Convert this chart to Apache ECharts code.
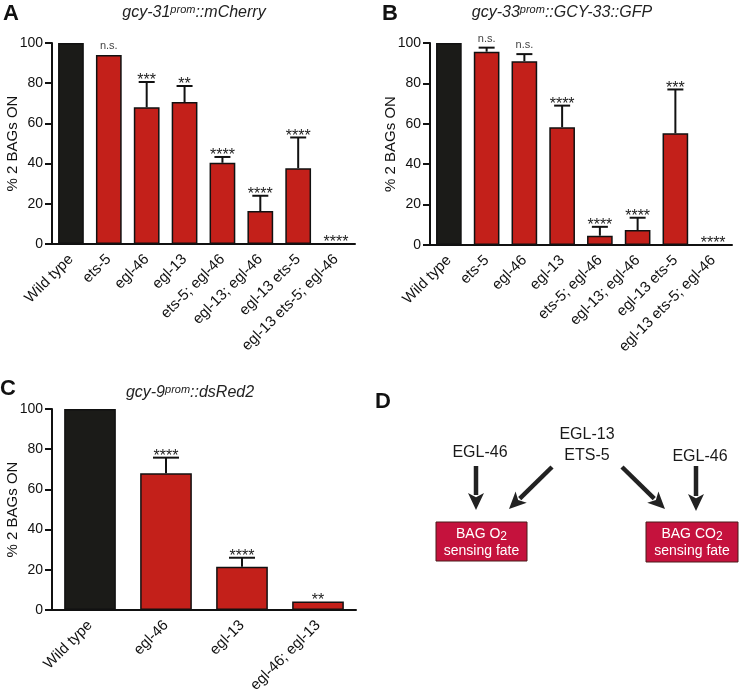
<!DOCTYPE html>
<html><head><meta charset="utf-8">
<script src="https://cdn.jsdelivr.net/npm/echarts@6/dist/echarts.min.js"></script>
<style>html,body{margin:0;padding:0;background:#fff}#c{width:740px;height:694px}</style>
</head><body><div id="c"></div>
<script>
const catsAB = ['Wild type','ets-5','egl-46','egl-13','ets-5; egl-46','egl-13; egl-46','egl-13 ets-5','egl-13 ets-5; egl-46'];
const valsA = [100, 94, 68, 70.6, 40.4, 16.4, 37.7, 0];
const errA  = [100, 94, 80.6, 78.6, 43.3, 24, 53, 0];
const sigA  = ['', 'n.s.', '***', '**', '****', '****', '****', '****'];
const valsB = [100, 95.7, 91, 58.3, 4.6, 7.4, 55.3, 0];
const errB  = [100, 97.7, 94.5, 69, 9, 13.5, 77, 0];
const sigB  = ['', 'n.s.', 'n.s.', '****', '****', '****', '***', '****'];
const catsC = ['Wild type','egl-46','egl-13','egl-46; egl-13'];
const valsC = [100, 68, 21.5, 4.2];
const errC  = [100, 75.8, 26, 4.2];
const sigC  = ['', '****', '****', '**'];
const yMin = 0, yMax = 100, yStep = 20;
const yName = '% 2 BAGs ON';

const FONT = 'Liberation Sans, Arial, Helvetica, sans-serif';
const RED = '#c3201a', BLACK = '#1b1b18', INK = '#111';

const grids = [
  {left: 52, top: 43, width: 303, height: 201},
  {left: 430, top: 43, width: 302, height: 202},
  {left: 52, top: 409, width: 304, height: 201}
].map(g => Object.assign({outerBoundsMode: 'none', containLabel: false}, g));

function xAx(idx, cats) {
  return {type: 'category', gridIndex: idx, data: cats,
    axisLine: {lineStyle: {color: INK, width: 2}},
    axisTick: {alignWithLabel: true, length: 7, lineStyle: {color: INK, width: 2}},
    axisLabel: {rotate: 45, margin: 13, color: INK, fontSize: 15, fontFamily: FONT, interval: 0}};
}
function yAx(idx, gap) {
  return {type: 'value', gridIndex: idx, min: yMin, max: yMax, interval: yStep,
    name: yName, nameLocation: 'middle', nameGap: gap, nameRotate: 90, nameMoveOverlap: false,
    nameTextStyle: {color: INK, fontSize: 15, fontFamily: FONT},
    axisLine: {show: true, lineStyle: {color: INK, width: 2}},
    axisTick: {show: true, length: 7, lineStyle: {color: INK, width: 2}},
    splitLine: {show: false},
    axisLabel: {margin: 9, color: INK, fontSize: 14, fontFamily: FONT}};
}
function barSeries(idx, vals) {
  return {type: 'bar', xAxisIndex: idx, yAxisIndex: idx, barWidth: '68%',
    data: vals.map((v, i) => ({value: v, itemStyle: {color: i === 0 ? BLACK : RED}})),
    itemStyle: {borderColor: '#111', borderWidth: 1.5}, silent: true};
}
function errSeries(idx, vals, errs, sigs, capHalf) {
  return {type: 'custom', xAxisIndex: idx, yAxisIndex: idx, z: 5, silent: true,
    data: vals.map((v, i) => [i, v, errs[i]]),
    renderItem(params, api) {
      const i = api.value(0), v = api.value(1), e = api.value(2);
      const sig = sigs[params.dataIndex];
      const p0 = api.coord([i, v]), p1 = api.coord([i, e]);
      const ch = [];
      const ls = {stroke: '#111', lineWidth: 2};
      if (e > v) {
        ch.push({type: 'line', shape: {x1: p0[0], y1: p0[1], x2: p1[0], y2: p1[1]}, style: ls});
        ch.push({type: 'line', shape: {x1: p1[0] - capHalf, y1: p1[1], x2: p1[0] + capHalf, y2: p1[1]}, style: ls});
      }
      if (sig) {
        const ns = sig === 'n.s.';
        ch.push({type: 'text', style: {text: sig, x: p1[0], y: ns ? p1[1] - 9 : p1[1] - 1,
          align: 'center', verticalAlign: 'middle', fill: ns ? '#444' : '#222',
          font: (ns ? '11px ' : '16px ') + FONT}});
      }
      return {type: 'group', children: ch};
    }};
}

const titleRich = {
  i: {fontSize: 16, fontStyle: 'italic', fontFamily: FONT, fill: '#222', lineHeight: 18},
  s: {fontSize: 11, fontStyle: 'italic', fontFamily: FONT, fill: '#222', lineHeight: 6, verticalAlign: 'top'}
};
function titleText(x, y, a, sup, b) {
  return {type: 'text', x: x, y: y, style: {text: '{i|' + a + '}{s|' + sup + '}{i|' + b + '}',
    rich: titleRich, align: 'center', verticalAlign: 'middle'}};
}
function panelLabel(t, x, y) {
  return {type: 'text', x: x, y: y, style: {text: t, font: 'bold 22px ' + FONT, fill: '#111', verticalAlign: 'top'}};
}
function arrow(x1, y1, x2, y2) {
  const dx = x2 - x1, dy = y2 - y1, L = Math.hypot(dx, dy), ux = dx / L, uy = dy / L;
  const hl = 17, hw = 8;
  const bx = x2 - ux * hl, by = y2 - uy * hl;
  return [
    {type: 'line', shape: {x1: x1, y1: y1, x2: bx + ux * 2, y2: by + uy * 2}, style: {stroke: '#222', lineWidth: 4.5}},
    {type: 'polygon', shape: {points: [[x2, y2], [bx - uy * hw, by + ux * hw], [x2 - ux * hl * 0.75, y2 - uy * hl * 0.75], [bx + uy * hw, by - ux * hw]]}, style: {fill: '#222'}}
  ];
}
const boxRich = {
  a: {fontSize: 14, fontFamily: FONT, fill: '#fff', lineHeight: 17},
  b: {fontSize: 12, fontFamily: FONT, fill: '#fff', lineHeight: 6, verticalAlign: 'bottom'}
};
function box(x, y, w, h, gas) {
  return [
    {type: 'rect', shape: {x: x, y: y, width: w, height: h}, style: {fill: '#c5123d', stroke: '#4a1a1a', lineWidth: 1}},
    {type: 'text', x: x + w / 2, y: y + h / 2 + 1, style: {text: '{a|BAG ' + gas + '}{b|2}\n{a|sensing fate}', rich: boxRich, align: 'center', verticalAlign: 'middle'}}
  ];
}
function label16(t, x, y) {
  return {type: 'text', x: x, y: y, style: {text: t, font: '16px ' + FONT, fill: '#1a1a1a', align: 'center', verticalAlign: 'middle'}};
}

const graphics = [
  panelLabel('A', 3, 3), panelLabel('B', 382, 3), panelLabel('C', 0, 378), panelLabel('D', 375, 391),
  titleText(194, 13, 'gcy-31', 'prom', '::mCherry'),
  titleText(562, 13, 'gcy-33', 'prom', '::GCY-33::GFP'),
  titleText(190, 393, 'gcy-9', 'prom', '::dsRed2'),
  label16('EGL-46', 480, 453), label16('EGL-13', 587, 435), label16('ETS-5', 587, 456), label16('EGL-46', 700, 457),
  ...arrow(476, 466, 476, 510),
  ...arrow(552, 467, 509, 509),
  ...arrow(622, 467, 665, 509),
  ...arrow(696, 466, 696, 511),
  ...box(436, 522, 91, 39, 'O'),
  ...box(646, 522, 92, 40, 'CO')
];

const chart = echarts.init(document.getElementById('c'));
chart.setOption({
  animation: false,
  backgroundColor: '#fff',
  grid: grids,
  xAxis: [xAx(0, catsAB), xAx(1, catsAB), xAx(2, catsC)],
  yAxis: [yAx(0, 32), yAx(1, 32), yAx(2, 32)],
  series: [
    barSeries(0, valsA), errSeries(0, valsA, errA, sigA, 8),
    barSeries(1, valsB), errSeries(1, valsB, errB, sigB, 8),
    barSeries(2, valsC), errSeries(2, valsC, errC, sigC, 13)
  ],
  graphic: graphics
});
</script>
</body></html>
